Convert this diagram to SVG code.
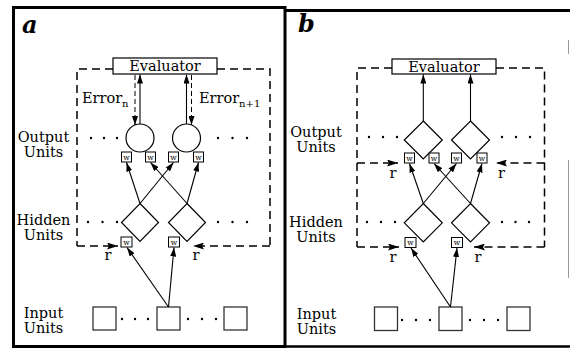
<svg xmlns="http://www.w3.org/2000/svg" width="570" height="350" viewBox="0 0 570 350">
  <defs>
    <marker id="arrow" markerUnits="userSpaceOnUse" markerWidth="10" markerHeight="6" refX="9" refY="3" orient="auto">
      <path d="M0,0 L9,3 L0,6 z" fill="#000"/>
    </marker>
    <marker id="arrow-r" markerUnits="userSpaceOnUse" markerWidth="12" markerHeight="7" refX="11" refY="3.5" orient="auto">
      <path d="M0,0 L11,3.5 L0,7 L2,3.5 z" fill="#000"/>
    </marker>
    <style>
      .lbl { font-family: "DejaVu Serif", "Liberation Serif", serif; font-size: 14.5px; fill: #000; }
      .mid { text-anchor: middle; }
      .panel { font-family: "DejaVu Serif", "Liberation Serif", serif; font-size: 24px; font-weight: bold; font-style: italic; fill: #000; }
      .sub { font-size: 10px; }
      .w { font-family: "DejaVu Serif", "Liberation Serif", serif; font-size: 7.5px; text-anchor: middle; fill: #000; }
      .wbox { fill: #fff; stroke: #000; stroke-width: 1; }
      .unit { fill: #fff; stroke: #000; stroke-width: 1.2; }
      .inbox { fill: #fff; stroke: #333; stroke-width: 1.3; }
      .link { stroke: #000; stroke-width: 1.1; fill: none; marker-end: url(#arrow); }
      .dash { stroke: #000; stroke-width: 1.5; fill: none; stroke-dasharray: 8 5; }
      .dasharrow { stroke: #000; stroke-width: 1.5; fill: none; stroke-dasharray: 8 5; marker-end: url(#arrow-r); }
      .thin-dash { stroke: #000; stroke-width: 1; fill: none; stroke-dasharray: 5 3; marker-end: url(#arrow); }
      .frame { fill: none; stroke: #000; stroke-width: 3; }
      .dot { fill: #000; }
    </style>
  </defs>

  <rect width="570" height="350" fill="#fff"/>

  <!-- panel frames -->
  <g id="frames">
    <rect class="frame" x="13.5" y="7.5" width="271.5" height="339"/>
    <line x1="285" y1="10.5" x2="570" y2="10.5" stroke="#000" stroke-width="3"/>
    <line x1="285" y1="346.5" x2="570" y2="346.5" stroke="#000" stroke-width="2.5"/>
    <line x1="568.5" y1="40" x2="568.5" y2="54" stroke="#999" stroke-width="1"/>
    <line x1="568.5" y1="160" x2="568.5" y2="278" stroke="#999" stroke-width="1"/>
    <text class="panel" x="22" y="33">a</text>
    <text class="panel" x="298" y="32">b</text>
  </g>

  <!-- ===================== panel a ===================== -->
  <g id="a-labels">
    <text class="lbl mid" x="43.5" y="142">Output</text>
    <text class="lbl mid" x="43.5" y="157">Units</text>
    <text class="lbl mid" x="43.5" y="225">Hidden</text>
    <text class="lbl mid" x="43.5" y="240">Units</text>
    <text class="lbl mid" x="43.5" y="318">Input</text>
    <text class="lbl mid" x="43.5" y="333">Units</text>
    <text class="lbl" x="82" y="103">Error<tspan class="sub" dy="4">n</tspan></text>
    <text class="lbl" x="199" y="103">Error<tspan class="sub" dy="4">n+1</tspan></text>
    <text class="lbl mid" x="108" y="260">r</text>
    <text class="lbl mid" x="196" y="260">r</text>
  </g>

  <g id="a-evaluator">
    <rect class="unit" x="113" y="58" width="104" height="16"/>
    <text class="lbl mid" x="165" y="71">Evaluator</text>
  </g>

  <g id="a-output-1">
    <circle class="unit" cx="140" cy="138" r="14"/>
    <rect class="wbox" x="121.5" y="152" width="10" height="10"/>
    <text class="w" x="126.5" y="159.5">w</text>
    <rect class="wbox" x="145.5" y="152" width="10" height="10"/>
    <text class="w" x="150.5" y="159.5">w</text>
  </g>
  <g id="a-output-2">
    <circle class="unit" cx="186.5" cy="138" r="14"/>
    <rect class="wbox" x="168.5" y="152" width="10" height="10"/>
    <text class="w" x="173.5" y="159.5">w</text>
    <rect class="wbox" x="193.5" y="152" width="10" height="10"/>
    <text class="w" x="198.5" y="159.5">w</text>
  </g>
  <g id="a-output-dots">
    <circle class="dot" cx="91" cy="138" r="1.2"/><circle class="dot" cx="104" cy="138" r="1.2"/><circle class="dot" cx="117" cy="138" r="1.2"/>
    <circle class="dot" cx="218" cy="138" r="1.2"/><circle class="dot" cx="232.5" cy="138" r="1.2"/><circle class="dot" cx="247" cy="138" r="1.2"/>
  </g>

  <g id="a-hidden-1">
    <path class="unit" d="M140,203.5 L158.5,222.5 L140,241.5 L121.5,222.5 z"/>
    <rect class="wbox" x="121" y="237" width="11" height="10"/>
    <text class="w" x="126.5" y="244.5">w</text>
  </g>
  <g id="a-hidden-2">
    <path class="unit" d="M187,203.5 L205.5,222.5 L187,241.5 L168.5,222.5 z"/>
    <rect class="wbox" x="168.5" y="237" width="11" height="10"/>
    <text class="w" x="174" y="244.5">w</text>
  </g>
  <g id="a-hidden-dots">
    <circle class="dot" cx="88" cy="222" r="1.2"/><circle class="dot" cx="102.5" cy="222" r="1.2"/><circle class="dot" cx="117" cy="222" r="1.2"/>
    <circle class="dot" cx="218" cy="222" r="1.2"/><circle class="dot" cx="232.5" cy="222" r="1.2"/><circle class="dot" cx="247" cy="222" r="1.2"/>
  </g>

  <g id="a-input">
    <rect class="inbox" x="93" y="307" width="23" height="23"/>
    <rect class="inbox" x="157" y="307" width="23" height="23"/>
    <rect class="inbox" x="224" y="307" width="23" height="23"/>
    <circle class="dot" cx="122" cy="319" r="1.2"/><circle class="dot" cx="135" cy="319" r="1.2"/><circle class="dot" cx="148" cy="319" r="1.2"/>
    <circle class="dot" cx="188" cy="319" r="1.2"/><circle class="dot" cx="202" cy="319" r="1.2"/><circle class="dot" cx="216" cy="319" r="1.2"/>
  </g>

  <g id="a-connectors">
    <path class="dash" d="M113,69 H77 V246"/>
    <path class="dash" d="M217,69 H270 V246"/>
    <path class="dasharrow" d="M77,246 H118"/>
    <path class="dasharrow" d="M270,246 H193"/>
    <line class="link" x1="140" y1="124" x2="140" y2="74.5"/>
    <line class="link" x1="186.5" y1="124" x2="186.5" y2="74.5"/>
    <line class="thin-dash" x1="135" y1="75" x2="135" y2="125"/>
    <line class="thin-dash" x1="191.5" y1="75" x2="191.5" y2="125"/>
    <line class="link" x1="140" y1="203.5" x2="126.5" y2="162.5"/>
    <line class="link" x1="140" y1="203.5" x2="173.5" y2="162.5"/>
    <line class="link" x1="187" y1="203.5" x2="150.5" y2="162.5"/>
    <line class="link" x1="187" y1="203.5" x2="198.5" y2="162.5"/>
    <line class="link" x1="168.5" y1="307" x2="127" y2="247.5"/>
    <line class="link" x1="168.5" y1="307" x2="174" y2="247.5"/>
  </g>

  <!-- ===================== panel b ===================== -->
  <g id="b-labels">
    <text class="lbl mid" x="316" y="137">Output</text>
    <text class="lbl mid" x="316" y="152">Units</text>
    <text class="lbl mid" x="316" y="227">Hidden</text>
    <text class="lbl mid" x="316" y="242">Units</text>
    <text class="lbl mid" x="316.5" y="319">Input</text>
    <text class="lbl mid" x="316.5" y="334">Units</text>
    <text class="lbl mid" x="393" y="178">r</text>
    <text class="lbl mid" x="501.5" y="178">r</text>
    <text class="lbl mid" x="393" y="262">r</text>
    <text class="lbl mid" x="478" y="262">r</text>
  </g>

  <g id="b-evaluator">
    <rect class="unit" x="392" y="59" width="104" height="15"/>
    <text class="lbl mid" x="444" y="71.5">Evaluator</text>
  </g>

  <g id="b-output-1">
    <path class="unit" d="M423.3,121 L442.3,140 L423.3,159 L404.3,140 z"/>
    <rect class="wbox" x="404.5" y="153" width="10" height="10"/>
    <text class="w" x="409.5" y="160.5">w</text>
    <rect class="wbox" x="429" y="153" width="10" height="10"/>
    <text class="w" x="434" y="160.5">w</text>
  </g>
  <g id="b-output-2">
    <path class="unit" d="M470.5,121 L489.5,140 L470.5,159 L451.5,140 z"/>
    <rect class="wbox" x="451.5" y="153" width="10" height="10"/>
    <text class="w" x="456.5" y="160.5">w</text>
    <rect class="wbox" x="477" y="153" width="10" height="10"/>
    <text class="w" x="482" y="160.5">w</text>
  </g>
  <g id="b-output-dots">
    <circle class="dot" cx="369" cy="137" r="1.2"/><circle class="dot" cx="383" cy="137" r="1.2"/><circle class="dot" cx="397" cy="137" r="1.2"/>
    <circle class="dot" cx="502" cy="137" r="1.2"/><circle class="dot" cx="516" cy="137" r="1.2"/><circle class="dot" cx="530" cy="137" r="1.2"/>
  </g>

  <g id="b-hidden-1">
    <path class="unit" d="M423.3,203.5 L442.3,222.8 L423.3,242 L404.3,222.8 z"/>
    <rect class="wbox" x="405" y="237.5" width="11" height="10"/>
    <text class="w" x="410.5" y="245">w</text>
  </g>
  <g id="b-hidden-2">
    <path class="unit" d="M470.5,203.5 L489.5,222.8 L470.5,242 L451.5,222.8 z"/>
    <rect class="wbox" x="451.5" y="237.5" width="11" height="10"/>
    <text class="w" x="457" y="245">w</text>
  </g>
  <g id="b-hidden-dots">
    <circle class="dot" cx="367" cy="222" r="1.2"/><circle class="dot" cx="381" cy="222" r="1.2"/><circle class="dot" cx="395" cy="222" r="1.2"/>
    <circle class="dot" cx="502" cy="222" r="1.2"/><circle class="dot" cx="515.5" cy="222" r="1.2"/><circle class="dot" cx="529" cy="222" r="1.2"/>
  </g>

  <g id="b-input">
    <rect class="inbox" x="374.5" y="307" width="23" height="23.5"/>
    <rect class="inbox" x="439" y="307" width="23" height="23.5"/>
    <rect class="inbox" x="507" y="307" width="23" height="23.5"/>
    <circle class="dot" cx="402" cy="320" r="1.2"/><circle class="dot" cx="416" cy="320" r="1.2"/><circle class="dot" cx="430" cy="320" r="1.2"/>
    <circle class="dot" cx="470" cy="320" r="1.2"/><circle class="dot" cx="484" cy="320" r="1.2"/><circle class="dot" cx="498" cy="320" r="1.2"/>
  </g>

  <g id="b-connectors">
    <path class="dash" d="M392,68 H357 V247"/>
    <path class="dash" d="M496,68 H544.5 V247"/>
    <path class="dasharrow" d="M357,163 H398"/>
    <path class="dasharrow" d="M544.5,163 H496"/>
    <path class="dasharrow" d="M357,247 H399"/>
    <path class="dasharrow" d="M544.5,247 H474"/>
    <line class="link" x1="423.3" y1="121" x2="423.3" y2="74.5"/>
    <line class="link" x1="470.5" y1="121" x2="470.5" y2="74.5"/>
    <line class="link" x1="423.3" y1="203.5" x2="409.5" y2="163.5"/>
    <line class="link" x1="423.3" y1="203.5" x2="456.5" y2="163.5"/>
    <line class="link" x1="470.5" y1="203.5" x2="434" y2="163.5"/>
    <line class="link" x1="470.5" y1="203.5" x2="482" y2="163.5"/>
    <line class="link" x1="450.5" y1="307" x2="411" y2="248"/>
    <line class="link" x1="450.5" y1="307" x2="457" y2="248"/>
  </g>
</svg>
